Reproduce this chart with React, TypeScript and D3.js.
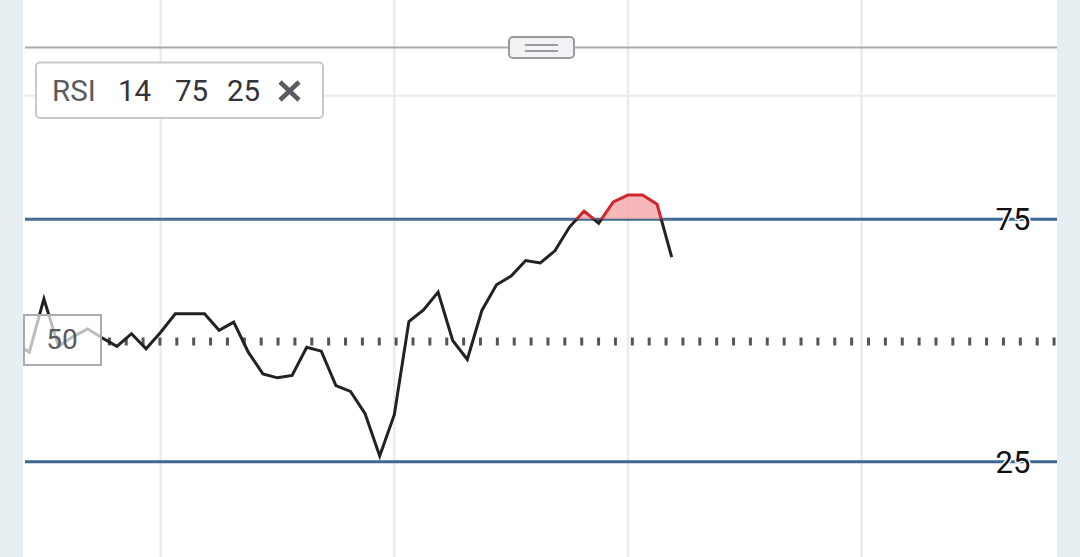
import React from "react";
import * as d3 from "d3";

const rsiValues: number[] = [
  49.4, 47.6, 58.6, 48.8, 50.8, 52.4, 50.5, 48.8, 51.4, 48.3,
  51.7, 55.5, 55.5, 55.5, 52.1, 53.8, 47.6, 43.1, 42.3, 42.8,
  48.6, 47.8, 40.7, 39.5, 34.9, 26.2, 34.7, 53.9, 56.3, 60.0,
  50.0, 46.1, 56.2, 61.5, 63.3, 66.5, 66.0, 68.5, 73.4, 76.7,
  74.2, 78.6, 80.0, 80.0, 78.1, 67.2,
];
const upperLevel = 75;
const lowerLevel = 25;
const midLevel = 50;
const gridIndices = [10, 26, 42, 58];
const gridValues = [100.5];
const legendTokens = ["RSI", "14", "75", "25"];

const W = 1080;
const H = 557;
const L = 23;
const R = 1057;

export default function App() {
  const x = d3.scaleLinear().domain([0, 70]).range([14.7, 14.7 + 14.6 * 70]);
  const y = d3.scaleLinear().domain([lowerLevel, upperLevel]).range([461.7, 219.3]);

  const pts = rsiValues.map((v, i) => [i, v] as [number, number]);
  const line = d3
    .line<[number, number]>()
    .x((d) => x(d[0]))
    .y((d) => y(d[1]));
  const area = d3
    .area<[number, number]>()
    .x((d) => x(d[0]))
    .y0(y(upperLevel))
    .y1((d) => y(d[1]));

  const yUp = y(upperLevel);
  const yLo = y(lowerLevel);
  const yMid = y(midLevel);
  const font = "Roboto, 'Noto Sans', sans-serif";
  const legendX = [52, 118, 175, 227];

  return (
    <svg
      width={W}
      height={H}
      style={{ position: "absolute", left: 0, top: 0, display: "block" }}
    >
      <defs>
        <clipPath id="plot">
          <rect x={L + 2} y={0} width={R - L - 2} height={H} />
        </clipPath>
        <clipPath id="above">
          <rect x={L + 2} y={0} width={R - L - 2} height={yUp} />
        </clipPath>
        <clipPath id="below">
          <rect x={L + 2} y={yUp} width={R - L - 2} height={H - yUp} />
        </clipPath>
      </defs>
      <rect x={0} y={0} width={W} height={H} fill="#e8eff2" />
      <rect x={L} y={0} width={R - L} height={H} fill="#ffffff" />

      {/* grid */}
      {gridIndices.map((g) => (
        <line key={g} x1={x(g)} x2={x(g)} y1={0} y2={H} stroke="#ebebee" strokeWidth={2.5} />
      ))}
      {gridValues.map((g) => (
        <line key={g} x1={L} x2={R} y1={y(g)} y2={y(g)} stroke="#ebebee" strokeWidth={2} />
      ))}

      {/* pane separator & handle */}
      <line x1={L + 2} x2={R} y1={47.5} y2={47.5} stroke="#a9a9ab" strokeWidth={2} />
      <rect x={509} y={37} width={65} height={21} rx={4} fill="#f2f2f4" stroke="#9a9aa0" strokeWidth={2} />
      <line x1={525} x2={558} y1={45} y2={45} stroke="#9a9aa0" strokeWidth={2} />
      <line x1={525} x2={558} y1={51} y2={51} stroke="#9a9aa0" strokeWidth={2} />

      {/* level lines */}
      <line x1={L + 2} x2={R} y1={yUp} y2={yUp} stroke="#3a6890" strokeWidth={3} />
      <line x1={L + 2} x2={R} y1={yLo} y2={yLo} stroke="#3a6890" strokeWidth={3} />
      <line
        x1={25 + 16.87 * 5 - 1.5}
        x2={R}
        y1={yMid + 1}
        y2={yMid + 1}
        stroke="#555"
        strokeWidth={8}
        strokeDasharray="3 13.87"
      />

      {/* RSI */}
      <g clipPath="url(#plot)">
        <path d={area(pts) || ""} fill="#f4a6a6" fillOpacity={0.8} clipPath="url(#above)" />
        <g clipPath="url(#below)">
          <path d={line(pts) || ""} fill="none" stroke="#222" strokeWidth={3} strokeLinejoin="miter" />
        </g>
        <g clipPath="url(#above)">
          <path d={line(pts) || ""} fill="none" stroke="#d0272d" strokeWidth={3} />
        </g>
      </g>

      {/* level labels */}
      {[upperLevel, lowerLevel].map((lv) => (
        <text
          key={lv}
          x={1013}
          y={y(lv)}
          dy="0.36em"
          textAnchor="middle"
          fontFamily={font}
          fontSize={31}
          fill="#111"
          stroke="#ffffff"
          strokeWidth={3}
          paintOrder="stroke"
        >
          {lv}
        </text>
      ))}

      {/* 50 box */}
      <rect x={24} y={315} width={77} height={50} fill="#ffffff" fillOpacity={0.7} stroke="#aaaaaf" strokeWidth={2} />
      <text x={62} y={339} dy="0.36em" textAnchor="middle" fontFamily={font} fontSize={28} fill="#5a5a5a">
        {midLevel}
      </text>

      {/* legend */}
      <rect x={36} y={62.5} width={287} height={55.5} rx={4} fill="#ffffff" stroke="#c9c9cc" strokeWidth={2} />
      {legendTokens.map((t, i) => (
        <text
          key={i}
          x={legendX[i]}
          y={101}
          fontFamily={font}
          fontSize={29.5}
          fill={i === 0 ? "#5a5a60" : "#333338"}
        >
          {t}
        </text>
      ))}
      <g stroke="#5a5a60" strokeWidth={4.5} strokeLinecap="butt">
        <line x1={280} y1={82} x2={299} y2={100} />
        <line x1={299} y1={82} x2={280} y2={100} />
      </g>
    </svg>
  );
}
